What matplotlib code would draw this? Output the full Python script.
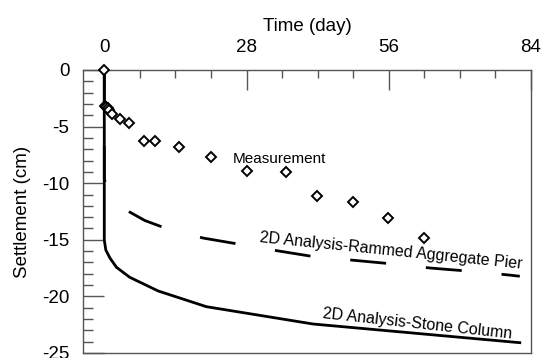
import matplotlib
matplotlib.use("Agg")
import matplotlib.pyplot as plt
from matplotlib.ticker import MultipleLocator, FuncFormatter

plt.rcParams['font.family'] = ['Liberation Sans', 'DejaVu Sans']

# Measured settlement
meas_t = [0, 0.2, 0.4, 0.7, 1.0, 1.6, 3.0, 4.9, 7.9, 10.0, 14.7, 21.0, 28.0, 35.8, 41.9, 48.9, 55.8, 62.9]
meas_s = [0, -3.2, -3.3, -3.4, -3.5, -3.9, -4.36, -4.71, -6.27, -6.27, -6.78, -7.66, -8.92, -9.04, -11.10, -11.63, -13.10, -14.87]

# 2D analysis - Rammed Aggregate Pier
rap_t = [0, 0, 0.3, 1.5, 5.0, 8.0, 11.6, 19.5, 26.7, 34.2, 41.4, 49.3, 56.5, 64.3, 71.2, 79.4, 81.8]
rap_s = [0, -9.6, -10.1, -11.5, -12.55, -13.3, -13.9, -14.85, -15.4, -15.98, -16.5, -16.82, -17.12, -17.5, -17.75, -18.1, -18.22]

# 2D analysis - Stone Column
sc_t = [0, 0, 0.3, 1.1, 2.4, 5.0, 10.6, 20.1, 41.1, 81.8]
sc_s = [0, -15.02, -15.9, -16.6, -17.43, -18.31, -19.52, -20.91, -22.44, -24.09]

x_ticks = [0, 28, 56, 84]
y_ticks = [0, -5, -10, -15, -20, -25]

fig = plt.figure(figsize=(5.47, 3.58), dpi=100)
ax = fig.add_axes([0.1523, 0.0140, 0.8184, 0.7905])

lw = 2.0
on_px, off_px = 36, 40
ax.plot(rap_t, rap_s, color='black', lw=lw,
        linestyle=(0, (on_px * 0.72 / lw, off_px * 0.72 / lw)), zorder=2)
ax.plot(sc_t, sc_s, color='black', lw=lw, solid_joinstyle='round', zorder=3)
ax.plot(meas_t, meas_s, linestyle='none', marker='D', markersize=5.2,
        markerfacecolor='white', markeredgecolor='black', markeredgewidth=1.4,
        clip_on=False, zorder=4)

ax.set_xlim(-4.13, 84)
ax.set_ylim(-25, 0)

ax.xaxis.tick_top()
ax.xaxis.set_label_position('top')
ax.set_xticks(x_ticks)
ax.xaxis.set_minor_locator(MultipleLocator(7))
ax.set_yticks(y_ticks)
ax.yaxis.set_minor_locator(MultipleLocator(1))
ax.yaxis.set_major_formatter(FuncFormatter(lambda v, p: '%d' % v))

tc = '#555555'
for s in ax.spines.values():
    s.set_color(tc)
    s.set_linewidth(1.0)

ax.tick_params(axis='x', which='major', direction='in', length=14.4, width=1,
               color=tc, labelsize=13.5, pad=10, top=True, bottom=False)
ax.tick_params(axis='x', which='minor', direction='in', length=5.8, width=1,
               color=tc, top=True, bottom=False)
ax.tick_params(axis='y', which='major', direction='in', length=15, width=1,
               color=tc, labelsize=13.5, pad=10, left=True, right=False)
ax.tick_params(axis='y', which='minor', direction='in', length=7.2, width=1,
               color=tc, left=True, right=False)

ax.set_xlabel('Time (day)', fontsize=13.5, labelpad=6)
ax.set_ylabel('Settlement (cm)', fontsize=13.5, labelpad=8)

ax.text(25.35, -8.24, 'Measurement', fontsize=11, ha='left', va='baseline')
ax.text(30.6, -15.2, '2D Analysis-Rammed Aggregate Pier', fontsize=11.5,
        ha='left', va='baseline', rotation=-5.8, rotation_mode='anchor')
ax.text(43.0, -21.88, '2D Analysis-Stone Column', fontsize=11.5,
        ha='left', va='baseline', rotation=-6.2, rotation_mode='anchor')

fig.savefig('out.png', dpi=100)
